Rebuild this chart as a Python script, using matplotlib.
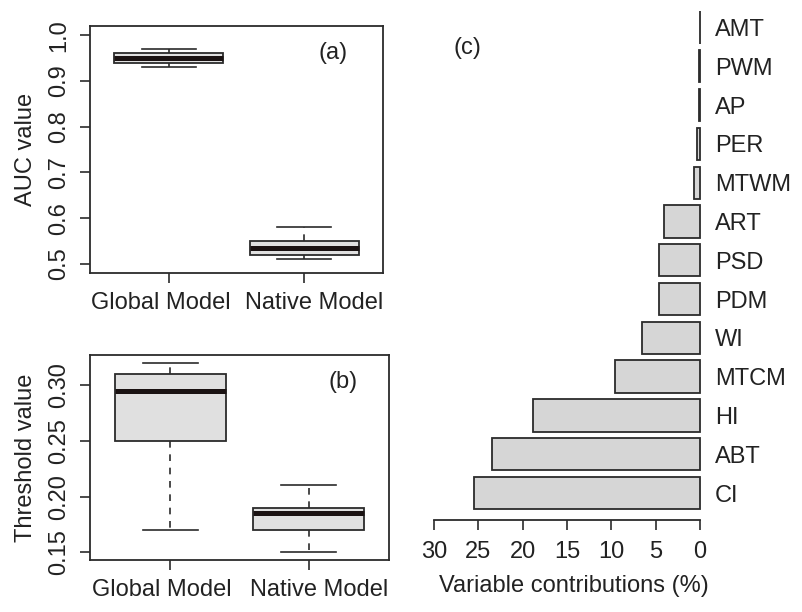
import numpy as np
import matplotlib
matplotlib.use("Agg")
import matplotlib.pyplot as plt

plt.rcParams['font.family'] = ['Liberation Sans', 'DejaVu Sans']
plt.rcParams['font.size'] = 17
plt.rcParams['text.color'] = '#222222'
plt.rcParams['axes.labelcolor'] = '#222222'
plt.rcParams['xtick.color'] = '#222222'
plt.rcParams['ytick.color'] = '#222222'

# box summaries: whislo, q1, median, q3, whishi
models = ["Global Model", "Native Model"]
auc_global = [0.93, 0.94, 0.95, 0.96, 0.97]
auc_native = [0.51, 0.52, 0.535, 0.55, 0.58]
thr_global = [0.17, 0.25, 0.295, 0.31, 0.32]
thr_native = [0.15, 0.17, 0.185, 0.19, 0.21]

# variable contributions (%), top to bottom
variables = ["AMT", "PWM", "AP", "PER", "MTWM", "ART", "PSD", "PDM",
             "WI", "MTCM", "HI", "ABT", "CI"]
contrib = [0.0, 0.15, 0.15, 0.4, 0.65, 4.1, 4.65, 4.6,
           6.5, 9.6, 18.8, 23.5, 25.5]

line_col = '#2b2b2b'
box_fill = '#e0e0e0'
bar_fill = '#d6d6d6'


def to_stats(summaries):
    out = []
    for s in summaries:
        out.append({'whislo': s[0], 'q1': s[1], 'med': s[2], 'q3': s[3],
                    'whishi': s[4], 'fliers': []})
    return out


def draw_box(ax, summaries, ylim, yticks, ylabels, ylab, tag, tagxy, width_px):
    ax.bxp(to_stats(summaries), positions=[1, 2], widths=0.8, patch_artist=True,
           showfliers=False,
           boxprops=dict(facecolor=box_fill, edgecolor=line_col, linewidth=1.3),
           medianprops=dict(color='#1a1212', linewidth=3.6, solid_capstyle='butt'),
           whiskerprops=dict(color=line_col, linewidth=1.2, linestyle=(0, (4, 4))),
           capprops=dict(color=line_col, linewidth=1.2))
    ax.set_xlim(0.42, 2.58)
    ax.set_ylim(*ylim)
    # tick marks at the boxes, names set slightly apart (minor ticks carry the names)
    ax.set_xticks([1, 2], labels=[])
    ax.set_xticks([0.94, 2.073], labels=models, minor=True)
    ax.tick_params(axis='x', which='minor', length=0, pad=14)
    ax.set_yticks(yticks)
    ax.set_yticklabels(ylabels, rotation=90, va='center')
    ax.tick_params(which='major', length=7, width=1.2, pad=7, color=line_col)
    for sp in ax.spines.values():
        sp.set_color(line_col)
        sp.set_linewidth(1.3)
    ax.set_ylabel(ylab)
    ax.yaxis.set_label_coords((37 - 90) / width_px, 0.5)
    ax.text(tagxy[0], tagxy[1], tag, transform=ax.transAxes, ha='center', va='center')


fig = plt.figure(figsize=(8.02, 6.12), dpi=100)

ax_a = fig.add_axes([90/802, 1-273/612, 293/802, 247/612])
draw_box(ax_a, [auc_global, auc_native], (0.48, 1.02),
         [0.5, 0.6, 0.7, 0.8, 0.9, 1.0], ["0.5", "0.6", "0.7", "0.8", "0.9", "1.0"],
         "AUC value", "(a)", ((333-90)/293, (273-53)/247), 293)

ax_b = fig.add_axes([90/802, 1-560/612, 299/802, 205/612])
draw_box(ax_b, [thr_global, thr_native], (0.1432, 0.3268),
         [0.15, 0.20, 0.25, 0.30], ["0.15", "0.20", "0.25", "0.30"],
         "Threshold value", "(b)", ((343-90)/299, (560-382)/205), 299)

ax_c = fig.add_axes([423.4/802, 1-520.2/612, 287.3/802, 516/612])
ypos = np.arange(len(variables))[::-1]
ax_c.barh(ypos, contrib, height=1/1.2, color=bar_fill, edgecolor=line_col, linewidth=1.3)
ax_c.set_xlim(31.2, -1.2)
ax_c.set_ylim(-0.7, 12.6)
for s in ['top', 'left', 'right']:
    ax_c.spines[s].set_visible(False)
ax_c.spines['bottom'].set_bounds(0, 30)
ax_c.spines['bottom'].set_color(line_col)
ax_c.spines['bottom'].set_linewidth(1.3)
ax_c.set_xticks(np.arange(0, 31, 5))
ax_c.tick_params(axis='x', length=7, width=1.2, pad=8, color=line_col)
ax_c.yaxis.tick_right()
ax_c.set_yticks(ypos)
ax_c.set_yticklabels(variables)
ax_c.tick_params(axis='y', length=0, pad=3)
ax_c.set_xlabel("Variable contributions (%)")
ax_c.xaxis.set_label_coords((574 - 423.4) / 287.3, -(575 - 520.2) / 516)
fig.text(467/802, 1-48/612, "(c)", ha='center', va='center')

fig.savefig("out.png", dpi=100)
